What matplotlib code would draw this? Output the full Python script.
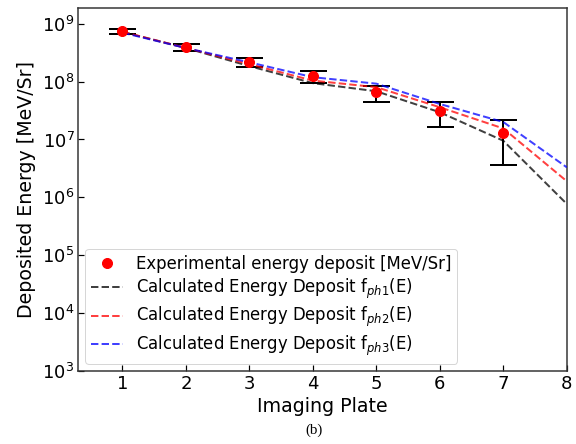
import matplotlib
matplotlib.use('Agg')
import matplotlib.pyplot as plt

# imaging plate number
plates = [1, 2, 3, 4, 5, 6, 7]
plates_calc = [1, 2, 3, 4, 5, 6, 7, 8]

# measured deposit and error limits [MeV/Sr]
exp_energy = [7.45e8, 3.9e8, 2.17e8, 1.24e8, 6.6e7, 3.05e7, 1.27e7]
exp_upper = [8.07e8, 4.43e8, 2.58e8, 1.54e8, 8.45e7, 4.45e7, 2.2e7]
exp_lower = [6.7e8, 3.41e8, 1.78e8, 9.3e7, 4.35e7, 1.66e7, 3.6e6]

# calculated deposits for the three spectra
calc_ph1 = [7.2e8, 3.8e8, 1.85e8, 9.4e7, 6.8e7, 2.95e7, 9.5e6, 7.7e5]
calc_ph2 = [7.25e8, 3.82e8, 2.0e8, 1.04e8, 8.0e7, 3.6e7, 1.55e7, 1.9e6]
calc_ph3 = [7.0e8, 3.8e8, 2.15e8, 1.19e8, 9.2e7, 4.1e7, 2.0e7, 3.3e6]

err_low = [e - l for e, l in zip(exp_energy, exp_lower)]
err_high = [u - e for e, u in zip(exp_energy, exp_upper)]

fig = plt.figure(figsize=(8, 444 / 72), dpi=72)
ax = fig.add_axes([0.1354, 0.1644, 0.8486, 0.8186])

ax.errorbar(plates, exp_energy, yerr=[err_low, err_high], fmt='none',
            ecolor='black', elinewidth=2, capsize=13.5, capthick=2, zorder=2)
ax.plot(plates, exp_energy, 'o', color='red', markersize=10, zorder=4,
        label='Experimental energy deposit [MeV/Sr]')
ax.plot(plates_calc, calc_ph1, '--', color='black', alpha=0.75, lw=2, zorder=3,
        label='Calculated Energy Deposit f$_{ph1}$(E)')
ax.plot(plates_calc, calc_ph2, '--', color='red', alpha=0.75, lw=2, zorder=3,
        label='Calculated Energy Deposit f$_{ph2}$(E)')
ax.plot(plates_calc, calc_ph3, '--', color='blue', alpha=0.75, lw=2, zorder=3,
        label='Calculated Energy Deposit f$_{ph3}$(E)')

ax.set_yscale('log')
ax.set_xlim(0.3, 8)
ax.set_ylim(1e3, 1.9e9)
ax.set_xticks(range(1, 9))
ax.minorticks_off()
ax.tick_params(direction='in', labelsize=18, length=6, width=1.2)
for s in ax.spines.values():
    s.set_color('#333333')
    s.set_linewidth(1.5)

ax.set_xlabel('Imaging Plate', fontsize=19)
ax.set_ylabel('Deposited Energy [MeV/Sr]', fontsize=19, labelpad=6)
ax.legend(loc='lower left', fontsize=16.5, handlelength=1.9,
          borderaxespad=0.45, labelspacing=0.25, borderpad=0.35)

fig.text(0.545, 0.022, '(b)', fontsize=15, family='Liberation Serif', ha='center')

fig.savefig('out.png', dpi=72)
